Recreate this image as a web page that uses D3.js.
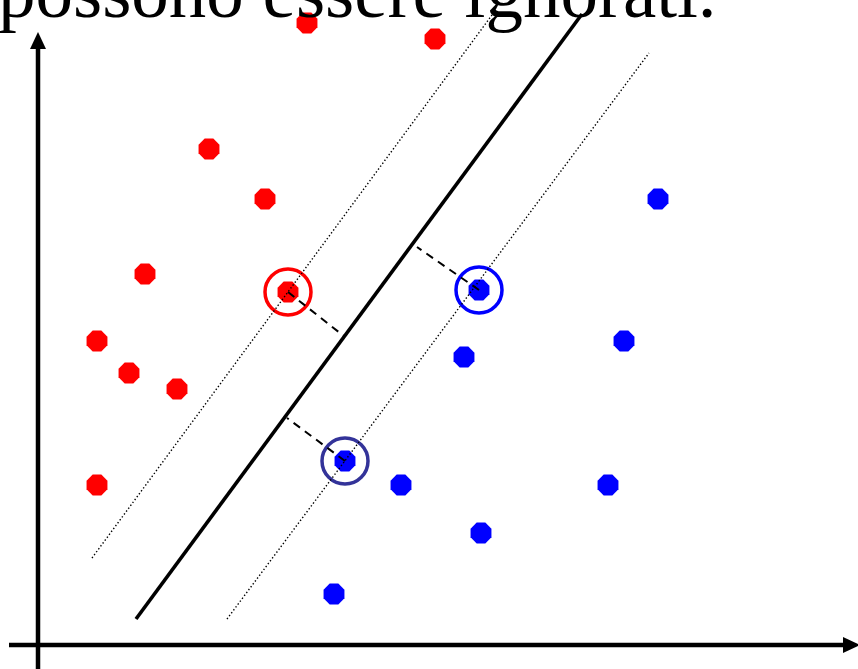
<!DOCTYPE html>
<html>
<head>
<meta charset="utf-8">
<script src="https://cdn.jsdelivr.net/npm/d3@7"></script>
<style>
  html, body { margin: 0; padding: 0; background: #fff; overflow: hidden; }
  svg { display: block; }
</style>
</head>
<body>
<svg id="chart" width="858" height="669"></svg>
<script>
// ---- data (chart units: x from vertical axis, y up from horizontal axis) ----
const titleText = "possono essere ignorati.";

const redX = [269, 397, 171, 227, 107, 59, 91, 139, 59];
const redY = [622, 606, 496, 446, 371, 304, 272, 256, 160];

const blueX = [620, 586, 426, 363, 570, 443, 296];
const blueY = [446, 304, 288, 160, 160, 112, 51];

// support vectors
const svX = [250, 441, 307];
const svY = [353, 355, 184];
const svClass = ["red", "blue", "blue2"];

// separating hyperplane and margins (endpoints)
const hyperX = [98, 544];
const hyperY = [26, 631];
const marginUpX = [54, 454];
const marginUpY = [87, 630];
const marginLowX = [189, 611];
const marginLowY = [26, 592];

// perpendicular distances from support vectors to the hyperplane
const distFootX = [307, 379, 249];
const distFootY = [308, 398, 227];

// ---- drawing ----
const W = 858, H = 669;
const svg = d3.select("#chart");
const x = d3.scaleLinear().domain([0, 820]).range([38, 858]);
const y = d3.scaleLinear().domain([0, 645]).range([645, 0]);

const colors = { red: "#ff0000", blue: "#0000ff", blue2: "#333399" };
const fill = { red: "#ff0000", blue: "#0000ff", blue2: "#0000ff" };

// octagon generator
function octagon(cx, cy, r) {
  const pts = d3.range(8).map(i => {
    const a = Math.PI / 8 + i * Math.PI / 4;
    return [cx + r * Math.cos(a), cy + r * Math.sin(a)];
  });
  return "M" + pts.map(p => p.join(",")).join("L") + "Z";
}
const R = 11.3;

const red = redX.map((v, i) => ({ x: v, y: redY[i] }));
const blue = blueX.map((v, i) => ({ x: v, y: blueY[i] }));
const sv = svX.map((v, i) => ({ x: v, y: svY[i], c: svClass[i] }));

svg.append("g").selectAll("path").data(red).join("path")
  .attr("d", d => octagon(x(d.x), y(d.y), R)).attr("fill", colors.red);
svg.append("g").selectAll("path").data(blue).join("path")
  .attr("d", d => octagon(x(d.x), y(d.y), R)).attr("fill", colors.blue);
svg.append("g").selectAll("path").data(sv).join("path")
  .attr("d", d => octagon(x(d.x), y(d.y), R)).attr("fill", d => fill[d.c]);

// circles around support vectors
svg.append("g").selectAll("circle").data(sv).join("circle")
  .attr("cx", d => x(d.x)).attr("cy", d => y(d.y)).attr("r", 23)
  .attr("fill", "none").attr("stroke", d => colors[d.c]).attr("stroke-width", 3.5);

const line = d3.line().x(d => x(d[0])).y(d => y(d[1]));

// margins (dotted)
[[marginUpX, marginUpY], [marginLowX, marginLowY]].forEach(([lx, ly]) => {
  svg.append("path").attr("d", line([[lx[0], ly[0]], [lx[1], ly[1]]]))
    .attr("fill", "none").attr("stroke", "#000").attr("stroke-width", 1.4)
    .attr("stroke-dasharray", "1.4,2.2");
});

// distance segments (dashed)
sv.forEach((d, i) => {
  svg.append("path").attr("d", line([[d.x, d.y], [distFootX[i], distFootY[i]]]))
    .attr("fill", "none").attr("stroke", "#000").attr("stroke-width", 2)
    .attr("stroke-dasharray", "8,6");
});

// hyperplane
svg.append("path").attr("d", line([[hyperX[0], hyperY[0]], [hyperX[1], hyperY[1]]]))
  .attr("fill", "none").attr("stroke", "#000").attr("stroke-width", 3.6);

// axes
svg.append("line").attr("x1", x(0)).attr("y1", 46).attr("x2", x(0)).attr("y2", H)
  .attr("stroke", "#000").attr("stroke-width", 4.5);
svg.append("path").attr("d", `M${x(0)},32 L${x(0) - 8},49 L${x(0) + 8},49 Z`).attr("fill", "#000");
svg.append("line").attr("x1", 9).attr("y1", y(0)).attr("x2", 846).attr("y2", y(0))
  .attr("stroke", "#000").attr("stroke-width", 4.5);
svg.append("path").attr("d", `M860,${y(0)} L843,${y(0) - 8} L843,${y(0) + 8} Z`).attr("fill", "#000");

// title text (cut off at top, as in the original slide)
svg.append("text").attr("x", -2).attr("y", 17)
  .attr("font-family", "'Liberation Serif', 'Times New Roman', serif")
  .attr("font-size", 75).attr("fill", "#000").text(titleText);
</script>
</body>
</html>
